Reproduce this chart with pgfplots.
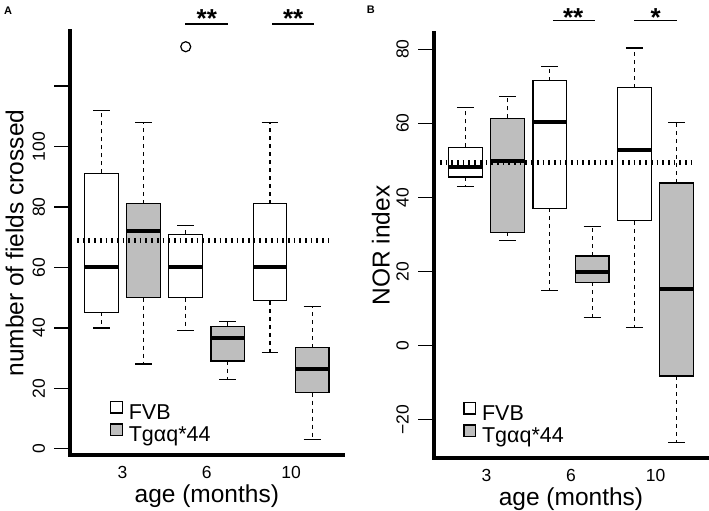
\documentclass[border=0pt]{standalone}
\usepackage{fontspec}
\setmainfont{Liberation Sans}
\usepackage{pgfplots}
\pgfplotsset{compat=1.18}
\usepgfplotslibrary{statistics}
\definecolor{tggray}{RGB}{190,190,190}

\newcommand{\tickfont}{\fontsize{17.5}{17.5}\selectfont}

% R-style whiskers: dashed stem, solid staple
\pgfplotsset{
  boxplot/draw/lower whisker/.code={%
    \draw[black, line width=1.1pt, dash pattern=on 4pt off 4pt]
      (boxplot box cs:\pgfplotsboxplotvalue{lower quartile},0.5) --
      (boxplot box cs:\pgfplotsboxplotvalue{lower whisker},0.5);
    \draw[black, line width=1.1pt]
      (boxplot whisker cs:\pgfplotsboxplotvalue{lower whisker},0) --
      (boxplot whisker cs:\pgfplotsboxplotvalue{lower whisker},1);
  },
  boxplot/draw/upper whisker/.code={%
    \draw[black, line width=1.1pt, dash pattern=on 4pt off 4pt]
      (boxplot box cs:\pgfplotsboxplotvalue{upper quartile},0.5) --
      (boxplot box cs:\pgfplotsboxplotvalue{upper whisker},0.5);
    \draw[black, line width=1.1pt]
      (boxplot whisker cs:\pgfplotsboxplotvalue{upper whisker},0) --
      (boxplot whisker cs:\pgfplotsboxplotvalue{upper whisker},1);
  },
  rbox/.style={
    boxplot/draw direction=y,
    boxplot/every box/.style={draw=black, line width=1.2pt, fill=#1},
    boxplot/every median/.style={draw=black, line width=4pt},
    boxplot/box extend=0.8, boxplot/whisker extend=0.4,
  },
  rpanel/.style={
    scale only axis, clip=false,
    axis x line*=bottom, axis y line*=left,
    axis line style={line width=4pt, line cap=rect},
    xmin=0.26, xmax=6.74,
    xtick={1.5,3.5,5.5}, xticklabels={3,6,10},
    xtick align=inside, major x tick style={draw=none},
    ytick align=outside, major tick length=16pt,
    major y tick style={line width=1.1pt, black},
    tick label style={font=\tickfont, inner sep=0pt},
    /pgf/number format/assume math mode=true,
    xticklabel style={font=\tickfont, inner sep=0pt, anchor=north}, xticklabel shift=10.8pt,
    yticklabel style={font=\tickfont, inner sep=0pt, rotate=90, anchor=south}, yticklabel shift=9pt,
    label style={font=\fontsize{24.5}{24.5}\selectfont, inner sep=0pt},
    xlabel style={at={([yshift=-47.5pt]axis description cs:0.5,0)}, anchor=base},
    legend cell align=left,
    legend style={draw=none, fill=none, inner sep=0pt,
      font=\fontsize{21.5}{21.5}\selectfont, row sep=1.5pt,
      nodes={inner sep=1pt}},
    legend image code/.code={%
      \draw[##1, line width=1.2pt] (0pt,-0.3pt) rectangle (11.4pt,11.1pt);},
  },
}

\begin{document}
\begin{tikzpicture}
\path[use as bounding box] (0,0) rectangle (709pt,511pt);

% ---------------- A: open field ----------------
\begin{axis}[rpanel,
  at={(70.3pt,55.7pt)}, anchor=south west,
  width=273pt, height=424.3pt,
  ymin=-2.1, ymax=138.2,
  ytick={0,20,40,60,80,100,120}, yticklabels={0,20,40,60,80,100,},
  xlabel={age (months)},
  ylabel={number of fields crossed},
  ylabel style={at={([xshift=-47pt]axis description cs:0,0.5)}, anchor=base},
  legend style={at={(axis description cs:0.1454,0.1283)}, anchor=north west},
]
\addlegendimage{fill=white, draw=black}
\addlegendentry{\hspace*{5pt}FVB}
\addlegendimage{fill=tggray, draw=black}
\addlegendentry{\hspace*{5pt}Tgαq*44}

\addplot[rbox=white, boxplot prepared={draw position=1,
  lower whisker=40, lower quartile=45.2, median=60.3,
  upper quartile=91.1, upper whisker=112}] coordinates {};
\addplot[rbox=tggray, boxplot prepared={draw position=2,
  lower whisker=28.1, lower quartile=50, median=72.2,
  upper quartile=81.1, upper whisker=108}] coordinates {};
\addplot[rbox=white, black, mark=o, mark size=5pt,
  mark options={line width=1.2pt, solid},
  boxplot prepared={draw position=3,
  lower whisker=39.1, lower quartile=50, median=60.3,
  upper quartile=71, upper whisker=74}] table[row sep=\\, y index=0] {data\\ 133\\};
\addplot[rbox=tggray, boxplot prepared={draw position=4,
  lower whisker=23.1, lower quartile=29.1, median=36.6,
  upper quartile=40.6, upper whisker=42.1}] coordinates {};
\addplot[rbox=white, boxplot prepared={draw position=5,
  lower whisker=32, lower quartile=49, median=60.3,
  upper quartile=81.1, upper whisker=108}] coordinates {};
\addplot[rbox=tggray, boxplot prepared={draw position=6,
  lower whisker=3.1, lower quartile=18.6, median=26.5,
  upper quartile=33.5, upper whisker=47}] coordinates {};

\addplot[black, line width=5pt, dash pattern=on 1.7pt off 4pt]
  coordinates {(0.42,69) (6.41,69)};

\draw[line width=1.8pt] (axis cs:2.99,140.5) -- (axis cs:4.0,140.5);
\draw[line width=1.8pt] (axis cs:5.05,140.5) -- (axis cs:6.04,140.5);
\node[anchor=base, inner sep=0pt, font=\bfseries\fontsize{26}{26}\selectfont]
  at (axis cs:3.5,139.3) {**};
\node[anchor=base, inner sep=0pt, font=\bfseries\fontsize{26}{26}\selectfont]
  at (axis cs:5.55,139.3) {**};
\end{axis}

% ---------------- B: NOR index ----------------
\begin{axis}[rpanel,
  at={(434pt,53pt)}, anchor=south west,
  width=274pt, height=425pt,
  ymin=-30.3, ymax=84.35,
  ytick={-20,0,20,40,60,80}, yticklabels={−20,0,20,40,60,80},
  xlabel={age (months)},
  ylabel={NOR index},
  ylabel style={at={([xshift=-44.5pt]axis description cs:0,0.5)}, anchor=base},
  legend style={at={(axis description cs:0.1069,0.1322)}, anchor=north west},
]
\addlegendimage{fill=white, draw=black}
\addlegendentry{\hspace*{5pt}FVB}
\addlegendimage{fill=tggray, draw=black}
\addlegendentry{\hspace*{5pt}Tgαq*44}

\addplot[rbox=white, boxplot prepared={draw position=1,
  lower whisker=43, lower quartile=45.5, median=48.1,
  upper quartile=53.5, upper whisker=64.2}] coordinates {};
\addplot[rbox=tggray, boxplot prepared={draw position=2,
  lower whisker=28.4, lower quartile=30.6, median=49.9,
  upper quartile=61.3, upper whisker=67.3}] coordinates {};
\addplot[rbox=white, boxplot prepared={draw position=3,
  lower whisker=15, lower quartile=37.1, median=60.4,
  upper quartile=71.5, upper whisker=75.4}] coordinates {};
\addplot[rbox=tggray, boxplot prepared={draw position=4,
  lower whisker=7.5, lower quartile=17.1, median=20,
  upper quartile=24.2, upper whisker=32.2}] coordinates {};
\addplot[rbox=white, boxplot prepared={draw position=5,
  lower whisker=5, lower quartile=33.7, median=52.8,
  upper quartile=69.6, upper whisker=80.3}] coordinates {};
\addplot[rbox=tggray, boxplot prepared={draw position=6,
  lower whisker=-26, lower quartile=-8.2, median=15.4,
  upper quartile=43.9, upper whisker=60.1}] coordinates {};

\addplot[black, line width=5pt, dash pattern=on 1.7pt off 4pt]
  coordinates {(0.40,49.3) (6.43,49.3)};

\draw[line width=1.8pt] (axis cs:3.07,87.7) -- (axis cs:4.06,87.7);
\draw[line width=1.8pt] (axis cs:4.99,87.7) -- (axis cs:6.0,87.7);
\node[anchor=base, inner sep=0pt, font=\bfseries\fontsize{26}{26}\selectfont]
  at (axis cs:3.55,86.2) {**};
\node[anchor=base, inner sep=0pt, font=\bfseries\fontsize{26}{26}\selectfont]
  at (axis cs:5.5,86.2) {*};
\end{axis}

\node[anchor=base west, inner sep=0pt, font=\bfseries\fontsize{11}{11}\selectfont] at (4pt,496pt) {A};
\node[anchor=base west, inner sep=0pt, font=\bfseries\fontsize{11}{11}\selectfont] at (366.7pt,497pt) {B};
\end{tikzpicture}
\end{document}
